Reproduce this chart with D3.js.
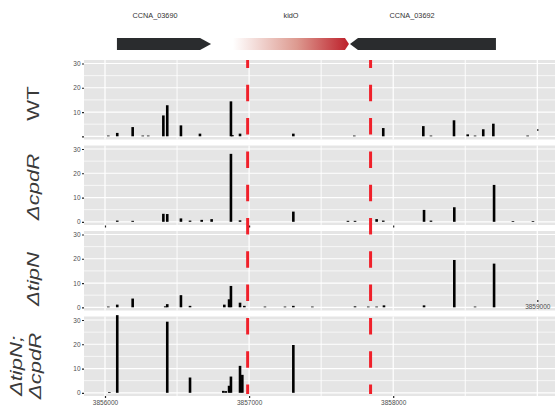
<!DOCTYPE html>
<html>
<head>
<meta charset="utf-8">
<script src="https://cdn.jsdelivr.net/npm/d3@7"></script>
<style>
body { margin: 0; background: #fff; }
svg { display: block; font-family: 'Liberation Sans', Arial, sans-serif; }
</style>
</head>
<body>
<div id="chart"></div>
<script>
// Strains (one panel each) and their coverage bars
const strainNames = ['WT', 'ΔcpdR', 'ΔtipN', 'ΔtipN;ΔcpdR'];

const wtPositions = [3856023, 3856085, 3856192, 3856262, 3856300, 3856405, 3856432, 3856527, 3856659, 3856874, 3856884, 3856937,
    3857307, 3857730, 3857931, 3858209, 3858262, 3858422, 3858517, 3858568, 3858625, 3858695, 3858933];
const wtCoverage = [0.3, 1.4, 3.8, 0.3, 0.3, 8.6, 12.8, 4.5, 1.1, 14.4, 0.5, 1.1,
    1.1, 0.3, 3.4, 4.2, 0.3, 6.6, 0.8, 0.3, 2.9, 5.2, 0.3];

const cpdRPositions = [3856085, 3856192, 3856405, 3856432, 3856527, 3856590, 3856671, 3856740, 3856874, 3856937,
    3857307, 3857686, 3857735, 3857885, 3857931, 3858214, 3858262, 3858424, 3858700, 3858831, 3858970];
const cpdRCoverage = [0.5, 0.4, 3.3, 3.2, 1.4, 0.5, 0.8, 1.1, 28, 0.6,
    4.2, 0.4, 0.4, 1.1, 0.5, 4.9, 0.5, 6, 15.2, 0.3, 0.3];

const tipNPositions = [3856023, 3856085, 3856192, 3856418, 3856432, 3856527, 3856590, 3856828, 3856861, 3856874, 3856937, 3856967,
    3857110, 3857249, 3857307, 3857439, 3857735, 3857827, 3857885, 3857936, 3858214, 3858424, 3858568, 3858700];
const tipNCoverage = [0.3, 1.1, 3.6, 0.4, 1.3, 5, 0.6, 1.1, 3.3, 8.8, 1.9, 0.6,
    0.3, 0.3, 0.6, 0.3, 0.4, 0.3, 0.3, 0.8, 0.8, 19.5, 0.3, 18];

const tipNcpdRPositions = [3856030, 3856085, 3856432, 3856590, 3856821, 3856838, 3856861, 3856874, 3856937, 3856953, 3857307];
const tipNcpdRCoverage = [0.3, 32, 29.3, 6.3, 0.8, 0.7, 2.9, 6.7, 11.1, 7.4, 19.7];

// Genes on top track
const geneNames = ['CCNA_03690', 'kidO', 'CCNA_03692'];
const geneStarts = [3856083, 3856888, 3857700];
const geneEnds = [3856736, 3857693, 3858713];
const geneStrands = [1, 1, -1];
const geneLabelPositions = [3856347, 3857291, 3858131];

// Red dashed markers (kidO boundaries)
const markerPositions = [3856990, 3857843];

// Axis breaks
const yTicks = [0, 10, 20, 30];
const yMinor = [5, 15, 25];
const xMajor = [3856000, 3857000, 3858000, 3859000];
const xMinor = [3856500, 3857500, 3858500];
const xLabelTicks = [3856000, 3857000, 3858000];

function drawChart() {
    const config = {
        width: 555,
        height: 412,
        panelLeft: 84,
        panelRight: 555,
        panelTops: [60, 145.5, 231, 316.5],
        panelHeight: 79.5,
        zeroOffset: 76.3,
        maxOffset: 3.5,
        barWidth: 2.6
    };

    const svg = d3.select('#chart')
        .append('svg')
        .attr('width', config.width)
        .attr('height', config.height);

    const x = d3.scaleLinear()
        .domain([3856000, 3859000])
        .range([105, 537.3]);

    const series = [
        { pos: wtPositions, cov: wtCoverage },
        { pos: cpdRPositions, cov: cpdRCoverage },
        { pos: tipNPositions, cov: tipNCoverage },
        { pos: tipNcpdRPositions, cov: tipNcpdRCoverage }
    ];

    // ---- gene track ----
    const defs = svg.append('defs');
    const grad = defs.append('linearGradient')
        .attr('id', 'kidoGrad')
        .attr('gradientUnits', 'userSpaceOnUse')
        .attr('x1', x(geneStarts[1])).attr('x2', x(geneEnds[1]))
        .attr('y1', 0).attr('y2', 0);
    grad.append('stop').attr('offset', '0%').attr('stop-color', '#ffffff');
    grad.append('stop').attr('offset', '55%').attr('stop-color', '#dd9a90');
    grad.append('stop').attr('offset', '100%').attr('stop-color', '#bd1f2a');

    const top = 38, bot = 50, mid = 44;
    function arrowPath(start, end, strand, head) {
        const x0 = x(start), x1 = x(end);
        if (strand > 0) {
            return `M${x0},${top}L${x1 - head},${top}L${x1},${mid}L${x1 - head},${bot}L${x0},${bot}Z`;
        }
        return `M${x0},${mid}L${x0 + head},${top}L${x1},${top}L${x1},${bot}L${x0 + head},${bot}Z`;
    }

    geneNames.forEach((name, i) => {
        const isKid = name === 'kidO';
        const head = isKid ? 4 : (geneStrands[i] > 0 ? 11 : 8);
        svg.append('path')
            .attr('d', arrowPath(geneStarts[i], geneEnds[i], geneStrands[i], head))
            .attr('fill', isKid ? 'url(#kidoGrad)' : '#2a2c2e');

        svg.append('text')
            .attr('x', x(geneLabelPositions[i]))
            .attr('y', 17.5)
            .attr('text-anchor', 'middle')
            .attr('font-size', '7.3px')
            .attr('fill', '#333')
            .text(name);
    });

    // ---- panels ----
    series.forEach((s, i) => {
        const pTop = config.panelTops[i];
        const y = d3.scaleLinear()
            .domain([0, 30])
            .range([pTop + config.zeroOffset, pTop + config.maxOffset]);

        const g = svg.append('g').attr('class', 'panel');

        g.append('rect')
            .attr('x', config.panelLeft)
            .attr('y', pTop)
            .attr('width', config.panelRight - config.panelLeft)
            .attr('height', config.panelHeight)
            .attr('fill', '#e5e5e5');

        // grid
        g.selectAll('.hminor').data(yMinor).enter().append('line')
            .attr('x1', config.panelLeft).attr('x2', config.panelRight)
            .attr('y1', d => y(d)).attr('y2', d => y(d))
            .attr('stroke', '#fff').attr('stroke-width', 0.7);
        g.selectAll('.hmajor').data(yTicks).enter().append('line')
            .attr('x1', config.panelLeft).attr('x2', config.panelRight)
            .attr('y1', d => y(d)).attr('y2', d => y(d))
            .attr('stroke', '#fff').attr('stroke-width', 1.2);
        g.selectAll('.vminor').data(xMinor).enter().append('line')
            .attr('x1', d => x(d)).attr('x2', d => x(d))
            .attr('y1', pTop).attr('y2', pTop + config.panelHeight)
            .attr('stroke', '#fff').attr('stroke-width', 0.9);
        g.selectAll('.vmajor').data(xMajor).enter().append('line')
            .attr('x1', d => x(d)).attr('x2', d => x(d))
            .attr('y1', pTop).attr('y2', pTop + config.panelHeight)
            .attr('stroke', '#fff').attr('stroke-width', 1.2);

        // coverage bars
        g.selectAll('.bar')
            .data(s.pos.map((p, k) => ({ p: p, v: s.cov[k] })))
            .enter()
            .append('rect')
            .attr('class', 'bar')
            .attr('x', d => x(d.p) - config.barWidth / 2)
            .attr('width', config.barWidth)
            .attr('y', d => y(d.v))
            .attr('height', d => y(0) - y(d.v))
            .attr('fill', '#000');

        // y axis
        const yAxis = g.append('g')
            .attr('transform', `translate(${config.panelLeft},0)`)
            .call(d3.axisLeft(y).tickValues(yTicks).tickSize(2).tickPadding(1.5));
        yAxis.select('.domain').remove();
        yAxis.selectAll('line').attr('stroke', '#222').attr('stroke-width', 1.2);
        yAxis.selectAll('text')
            .attr('font-size', '6.5px')
            .attr('font-family', "'Liberation Sans', Arial, sans-serif")
            .attr('fill', '#4d4d4d');
        if (i === 0) yAxis.selectAll('text').filter(d => d === 0).remove();
    });

    // stray x-axis ticks peeking out between stacked plots
    function xAxisAt(yPos, values, withLabels) {
        const a = svg.append('g')
            .attr('transform', `translate(0,${yPos})`)
            .call(d3.axisBottom(x).tickValues(values).tickSize(2).tickPadding(2.4)
                .tickFormat(withLabels ? d3.format('d') : ''));
        a.select('.domain').remove();
        a.selectAll('line').attr('stroke', '#222').attr('stroke-width', 1.2);
        a.selectAll('text')
            .attr('font-size', '6.5px')
            .attr('font-family', "'Liberation Sans', Arial, sans-serif")
            .attr('fill', '#4d4d4d');
    }
    xAxisAt(129, [3859000], false);
    xAxisAt(225.5, xLabelTicks, false);
    xAxisAt(300, [3859000], true);
    xAxisAt(396, xLabelTicks, true);

    // red dashed markers over all panels
    svg.selectAll('.marker')
        .data(markerPositions)
        .enter()
        .append('line')
        .attr('x1', d => x(d)).attr('x2', d => x(d))
        .attr('y1', 60).attr('y2', 394)
        .attr('stroke', '#f0202a')
        .attr('stroke-width', 3)
        .attr('stroke-dasharray', '16.5,16.8')
        .attr('stroke-dashoffset', 8.5);

    // strain labels on the left (wide, short glyphs like the original)
    const labelCenters = [103.5, 187, 279, 366];
    strainNames.forEach((name, i) => {
        const lines = name.includes(';') ? [name.split(';')[0] + ';', name.split(';')[1]] : [name];
        const baseX = lines.length > 1 ? 22 : 38.5;
        const t = svg.append('text')
            .attr('transform', `translate(${baseX},${labelCenters[i]}) rotate(-90) scale(1.3,1)`)
            .attr('text-anchor', 'middle')
            .attr('font-size', '17px')
            .attr('font-style', name === 'WT' ? 'normal' : 'italic')
            .attr('fill', '#3a3a3a');
        lines.forEach((ln, k) => {
            t.append('tspan')
                .attr('x', 0)
                .attr('dy', k === 0 ? 0 : 19)
                .text(ln);
        });
    });
}

document.addEventListener('DOMContentLoaded', drawChart);
</script>
</body>
</html>
